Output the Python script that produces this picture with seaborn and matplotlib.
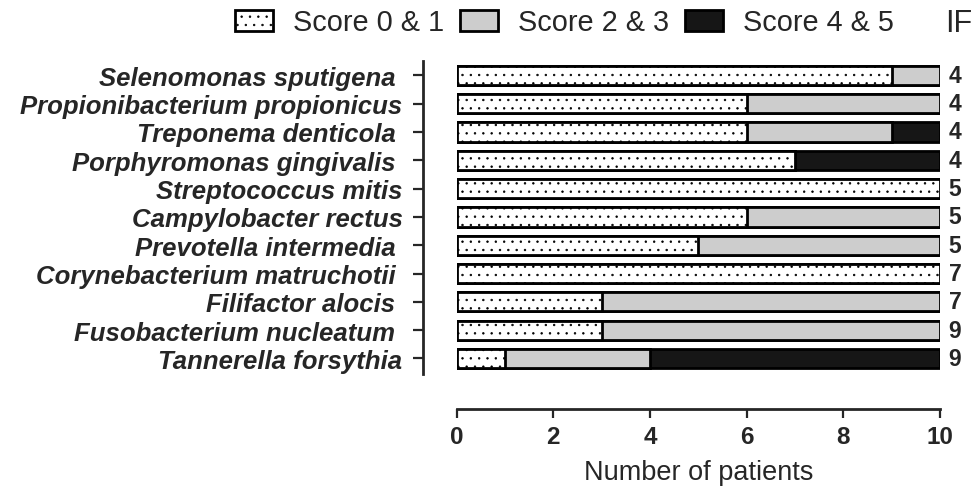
import pandas as pd
import matplotlib
matplotlib.use("Agg")
import matplotlib.pyplot as plt
import seaborn as sns
from matplotlib.patches import Patch

species = [
    "Selenomonas sputigena ",
    "Propionibacterium propionicus",
    "Treponema denticola ",
    "Porphyromonas gingivalis ",
    "Streptococcus mitis",
    "Campylobacter rectus",
    "Prevotella intermedia ",
    "Corynebacterium matruchotii ",
    "Filifactor alocis ",
    "Fusobacterium nucleatum ",
    "Tannerella forsythia",
]
score_01 = [9, 6, 6, 7, 10, 6, 5, 10, 3, 3, 1]
score_23 = [1, 4, 3, 0, 0, 4, 5, 0, 7, 7, 3]
score_45 = [0, 0, 1, 3, 0, 0, 0, 0, 0, 0, 6]
impact_factor = [4, 4, 4, 4, 5, 5, 5, 7, 7, 9, 9]
xticks = [0, 2, 4, 6, 8, 10]

df = pd.DataFrame({"species": species, "s01": score_01, "s23": score_23, "s45": score_45})
df["c1"] = df["s01"]
df["c2"] = df["s01"] + df["s23"]
df["c3"] = df["c2"] + df["s45"]

sns.set_style("ticks")
plt.rcParams["font.family"] = ["Liberation Sans", "DejaVu Sans"]
plt.rcParams["hatch.color"] = "black"
plt.rcParams["hatch.linewidth"] = 0.5

fig = plt.figure(figsize=(9.78, 4.89), dpi=100)
ax = fig.add_axes([0.467, 0.233, 0.494, 0.64])

# stacked bars drawn as cumulative layers
sns.barplot(data=df, x="c3", y="species", color="#161616", edgecolor="black",
            linewidth=2, width=0.68, ax=ax)
sns.barplot(data=df, x="c2", y="species", color="#cdcdcd", edgecolor="black",
            linewidth=2, width=0.68, ax=ax)
n = len(species)
sns.barplot(data=df, x="c1", y="species", color="white", edgecolor="black",
            linewidth=2, width=0.68, ax=ax)
for p in ax.patches[2 * n:]:
    p.set_hatch("..")

sns.despine(ax=ax)
ax.spines["left"].set_position(("outward", 24.5))
ax.spines["bottom"].set_position(("outward", 25))
for s in ["left", "bottom"]:
    ax.spines[s].set_linewidth(2)

# ticks set after moving spines (set_position resets the ticks)
ax.set_xlim(0, 10)
ax.set_ylim(10.55, -0.5)
ax.set_xticks(xticks, labels=[str(t) for t in xticks], fontsize=17.5, fontweight="bold")
ax.set_yticks(range(n), labels=species, fontsize=18.5, fontweight="bold", fontstyle="italic")
ax.tick_params(axis="x", length=6.5, width=1.6, pad=5)
ax.tick_params(axis="y", length=7.5, width=1.6, pad=7)
ax.set_xlabel("Number of patients", fontsize=19.5, labelpad=8)
ax.set_ylabel("")

# impact factor column
for i, v in enumerate(impact_factor):
    ax.text(10.18, i, str(v), va="center", ha="left", fontsize=16.5, fontweight="bold")
fig.text(0.966, 0.950, "IF", fontsize=22, va="center", ha="left")

handles = [
    Patch(facecolor="white", edgecolor="black", hatch="..", linewidth=2),
    Patch(facecolor="#cdcdcd", edgecolor="black", linewidth=2),
    Patch(facecolor="#161616", edgecolor="black", linewidth=2),
]
fig.legend(handles, ["Score 0 & 1", "Score 2 & 3", "Score 4 & 5"], loc="center left",
           bbox_to_anchor=(0.240, 0.952), ncol=3, frameon=False, fontsize=20.8,
           handlelength=1.33, handleheight=0.77, handletextpad=0.7, columnspacing=0.53,
           borderaxespad=0, borderpad=0)

fig.savefig("out.png", dpi=100)
